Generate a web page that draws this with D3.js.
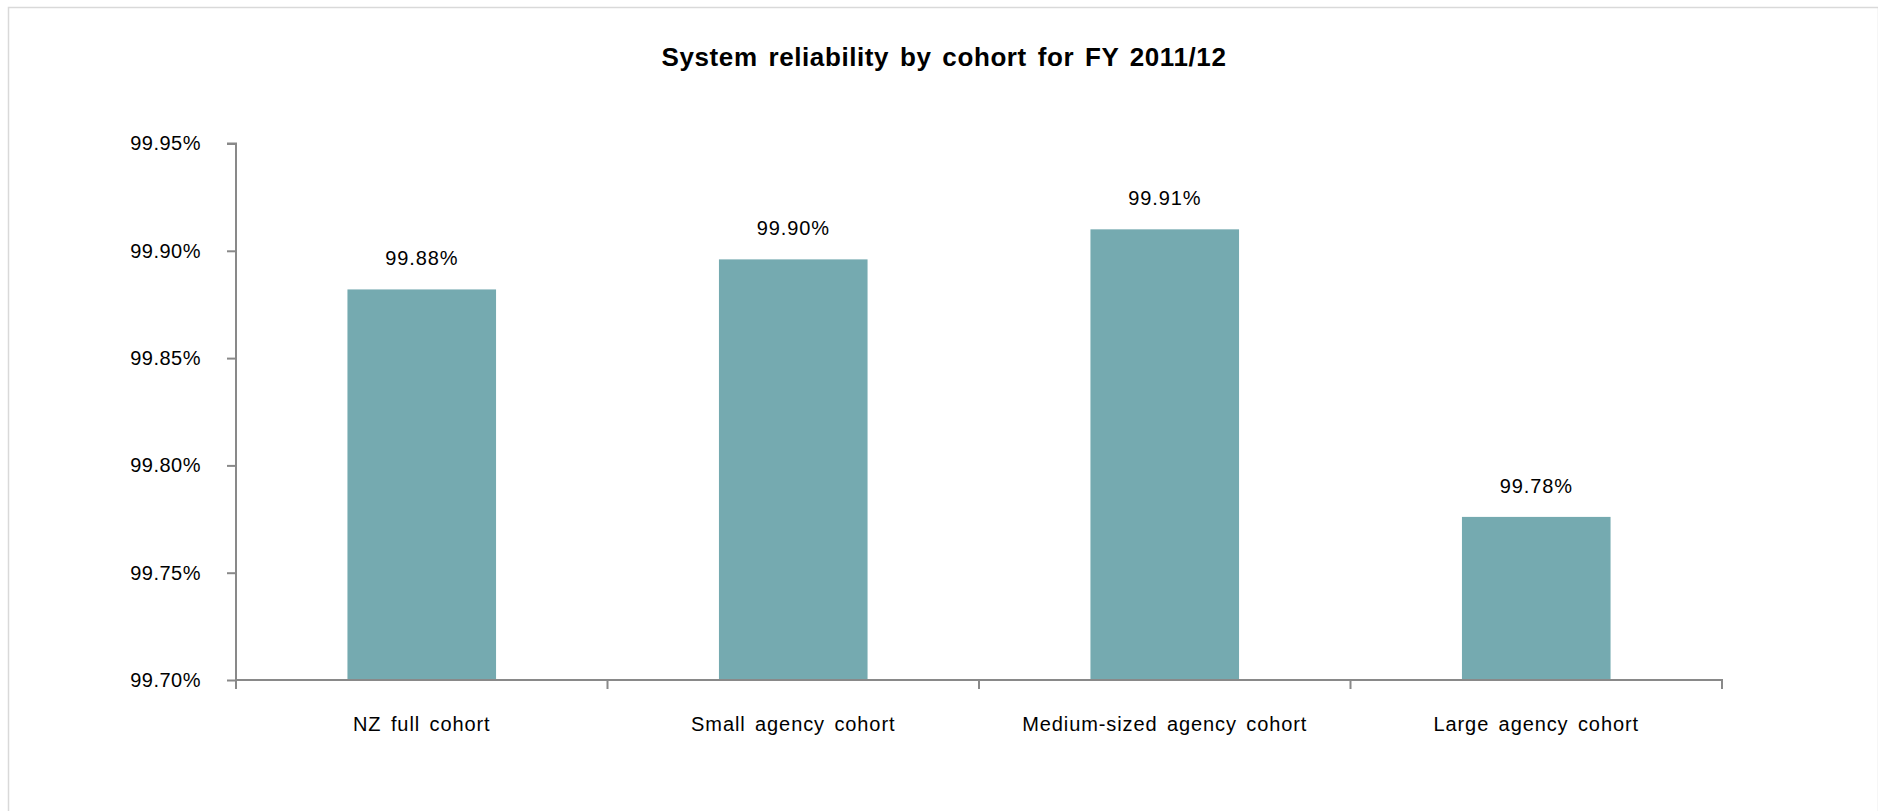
<!DOCTYPE html>
<html>
<head>
<meta charset="utf-8">
<script src="https://cdn.jsdelivr.net/npm/d3@7"></script>
<style>
  html, body { margin: 0; padding: 0; background: #ffffff; }
  svg { display: block; font-family: "Liberation Sans", Arial, sans-serif; }
</style>
</head>
<body>
<svg id="chart" width="1878" height="811"></svg>
<script>
// Cohort reliability figures (percent)
const cohorts = ["NZ full cohort", "Small agency cohort", "Medium-sized agency cohort", "Large agency cohort"];
const reliability = [99.882, 99.896, 99.910, 99.776];
const yTicks = [99.70, 99.75, 99.80, 99.85, 99.90, 99.95];
const chartTitle = "System reliability by cohort for FY 2011/12";

const svg = d3.select("#chart");
const W = 1878, H = 811;
const margin = { left: 236, right: 156, top: 143.5, bottom: 131 };
const plotW = W - margin.left - margin.right;
const plotH = H - margin.top - margin.bottom;

// Outer frame
svg.append("rect")
  .attr("x", 8.5).attr("y", 7.5)
  .attr("width", W - 8).attr("height", H - 6)
  .attr("fill", "none").attr("stroke", "#d9d9d9").attr("stroke-width", 1.5);

// Title
svg.append("text")
  .attr("x", 944).attr("y", 66)
  .attr("text-anchor", "middle")
  .attr("font-size", 26).attr("font-weight", "bold")
  .attr("letter-spacing", 0.6).attr("word-spacing", 3)
  .attr("fill", "#000")
  .text(chartTitle);

const g = svg.append("g").attr("transform", `translate(${margin.left},${margin.top})`);

const x = d3.scaleBand().domain(cohorts).range([0, plotW]).paddingInner(0.6).paddingOuter(0.3);
const y = d3.scaleLinear().domain([99.70, 99.95]).range([plotH, 0]);

// Bars
g.selectAll("rect.bar").data(cohorts).join("rect")
  .attr("class", "bar")
  .attr("x", d => x(d))
  .attr("width", x.bandwidth())
  .attr("y", (d, i) => y(reliability[i]))
  .attr("height", (d, i) => plotH - y(reliability[i]))
  .attr("fill", "#75aab0");

// Value labels
g.selectAll("text.val").data(cohorts).join("text")
  .attr("class", "val")
  .attr("x", d => x(d) + x.bandwidth() / 2)
  .attr("y", (d, i) => y(reliability[i]) - 24)
  .attr("text-anchor", "middle")
  .attr("font-size", 20)
  .attr("letter-spacing", 0.9)
  .attr("fill", "#000")
  .text((d, i) => reliability[i].toFixed(2) + "%");

// Y axis
const yAxis = d3.axisLeft(y).tickValues(yTicks).tickSize(9).tickPadding(26)
  .tickFormat(d => d.toFixed(2) + "%");
const yg = g.append("g").call(yAxis);
yg.select(".domain").attr("stroke", "#898989").attr("stroke-width", 2)
  .attr("d", `M0,${plotH}V0H-9`);
yg.selectAll(".tick line").attr("stroke", "#898989").attr("stroke-width", 2);
yg.selectAll(".tick text").attr("font-size", 20).attr("fill", "#000")
  .attr("letter-spacing", 0.5)
  .attr("font-family", "Liberation Sans, Arial, sans-serif");

// X axis: ticks at category boundaries
const step = x.step();
const boundaries = d3.range(cohorts.length + 1).map(i => x(cohorts[0]) - x.paddingInner() * step / 2 + i * step);
const xg = g.append("g").attr("transform", `translate(0,${plotH})`);
xg.append("line")
  .attr("x1", -1).attr("x2", plotW + 1)
  .attr("stroke", "#898989").attr("stroke-width", 2);
xg.selectAll("line.tk").data(boundaries).join("line")
  .attr("class", "tk")
  .attr("x1", d => d).attr("x2", d => d)
  .attr("y1", 0).attr("y2", 9)
  .attr("stroke", "#898989").attr("stroke-width", 2);
xg.selectAll("text.cat").data(cohorts).join("text")
  .attr("class", "cat")
  .attr("x", d => x(d) + x.bandwidth() / 2)
  .attr("y", 51)
  .attr("text-anchor", "middle")
  .attr("font-size", 20)
  .attr("letter-spacing", 0.9)
  .attr("word-spacing", 3)
  .attr("fill", "#000")
  .text(d => d);
</script>
</body>
</html>
